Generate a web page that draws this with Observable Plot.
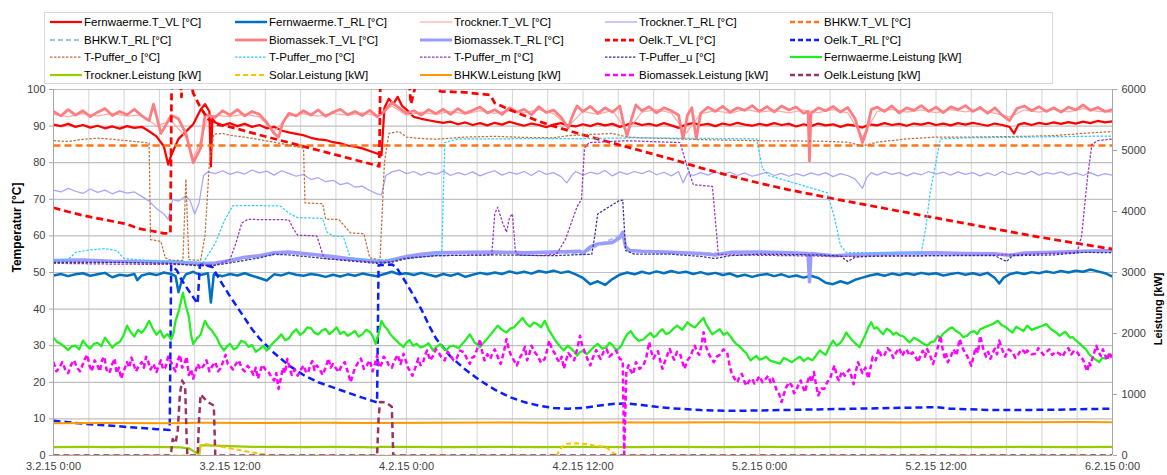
<!DOCTYPE html>
<html><head><meta charset="utf-8">
<script src="https://cdn.jsdelivr.net/npm/d3@7"></script>
<script src="https://cdn.jsdelivr.net/npm/@observablehq/plot@0.6"></script>
<style>
body{margin:0;background:#fff;font-family:"Liberation Sans",Arial,sans-serif;}
#wrap{position:relative;width:1167px;height:475px;overflow:hidden;background:#fff;}
#legend{position:absolute;left:44px;top:12px;width:1009px;height:72px;border:1px solid #d9d9d9;box-sizing:border-box;}
.item{position:absolute;height:16px;display:flex;align-items:center;font-size:11.5px;color:#000;white-space:nowrap;}
.item svg{margin-right:2px;}
#chart{position:absolute;left:0;top:81px;}
</style></head><body>
<div id="wrap"><div id="legend"></div><div id="chart"></div></div>
<script>
// ---------- axis ticks / labels ----------
const xTickHours = [0, 12, 24, 36, 48, 60, 72];
const xTickLabels = ["3.2.15 0:00", "3.2.15 12:00", "4.2.15 0:00", "4.2.15 12:00", "5.2.15 0:00", "5.2.15 12:00", "6.2.15 0:00"];
const yTicksLeft = [0, 10, 20, 30, 40, 50, 60, 70, 80, 90, 100];
const yTicksRight = [0, 1000, 2000, 3000, 4000, 5000, 6000];
const leftTitle = "Temperatur [°C]";
const rightTitle = "Leistung [kW]";

// ---------- series data: [hour since 3.2.15 0:00, value] ----------
const fwTVL = [[0,90.4],[0.5,90.0],[1,90.6],[1.5,89.8],[2,90.3],[2.5,89.6],[3,90.1],[3.5,89.4],[4,89.9],[4.5,89.3],[5,90.0],[5.5,89.5],[6,89.8],[6.5,88.6],[7,87.2],[7.5,84.5],[7.8,79.5],[8,82],[8.5,86.5],[9,88.5],[9.5,90.5],[10,94.5],[10.3,96],[10.6,94],[10.7,79],[10.8,92],[11,91],[11.5,90.2],[12,90.8],[12.5,90],[13,90.6],[13.5,89.8],[14,90.3],[14.5,89.4],[15,89.8],[15.5,88.8],[16,88.3],[16.5,87.9],[17,87.5],[17.5,86.8],[18,86.4],[18.5,86.2],[19,85.6],[19.5,85.3],[20,84.7],[20.5,84.4],[21,83.9],[21.5,83.2],[22,82.5],[22.3,82],[22.5,95],[22.8,97.5],[23.1,96],[23.4,98],[23.7,95.5],[24,94.5],[24.5,92.5],[25,92],[25.5,91.6],[26,91.2],[26.5,90.9],[27,91.2],[27.5,90.5],[28,91],[28.5,90.3],[29,90.8],[29.5,90.2],[30,90.9],[30.5,90.4],[31,91.2],[31.5,90.6],[32,90.1],[32.5,90.7],[33,90.3],[33.5,89.7],[34,90.4],[34.5,90.8],[35,90.2],[35.5,89.9],[36,90.5],[36.5,90.0],[37,90.7],[37.5,90.2],[38,90.6],[38.5,89.8],[39,90.4],[39.5,90.9],[40,90.3],[40.5,90.6],[41,90.1],[41.5,90.8],[42,90.2],[42.5,89.5],[43,90.4],[43.5,90.8],[44,90.3],[44.5,90.6],[45,90.0],[45.5,90.7],[46,90.3],[46.5,90.9],[47,90.4],[47.5,90.1],[48,90.6],[48.5,90.2],[49,90.8],[49.5,90.3],[50,90.6],[50.5,89.9],[51,90.5],[51.5,90.0],[52,90.7],[52.5,90.2],[53,90.5],[53.5,89.8],[54,90.4],[54.5,90.1],[55,89.6],[55.5,90.5],[56,90.2],[56.5,90.8],[57,90.3],[57.5,90.6],[58,90.1],[58.5,90.7],[59,90.4],[59.5,90.9],[60,90.3],[60.5,90.7],[61,90.2],[61.5,90.8],[62,90.4],[62.5,90.9],[63,90.5],[63.5,90.1],[64,90.7],[64.5,90.3],[65,89.8],[65.3,88],[65.6,90.4],[66,90.8],[66.5,90.3],[67,90.9],[67.5,90.5],[68,91.0],[68.5,90.6],[69,91.1],[69.5,90.7],[70,91.2],[70.5,90.8],[71,91.4],[71.5,91.0],[72,91.3]];
const fwTRL = [[0,49.2],[0.5,49.6],[1,49],[1.5,49.5],[2,49.8],[2.5,49.1],[3,49.5],[3.5,49.9],[4,48.7],[4.5,49.4],[5,49.1],[5.5,49.6],[5.7,47.9],[6,49.2],[6.5,49.7],[7,49.3],[7.5,50],[8,49.6],[8.3,49],[8.5,44.6],[8.7,47.5],[9,49.5],[9.5,50.2],[10,49.3],[10.5,49.8],[10.7,41.8],[10.9,49.5],[11.5,49],[12,49.6],[12.5,49.2],[13,49.8],[13.5,49.1],[14,48.5],[14.5,47.8],[15,49.5],[15.5,49.2],[16,49.9],[16.5,49.4],[17,49.1],[17.5,49.6],[18,49.3],[18.5,48.8],[19,49.4],[19.5,48.9],[20,49.5],[20.5,49.1],[21,49.7],[21.5,49.3],[22,49],[22.5,49.6],[23,50.2],[23.5,49.5],[24,49.8],[24.5,49.3],[25,49.9],[25.5,49.4],[26,48.9],[26.5,49.6],[27,49.1],[27.5,49.7],[28,48.8],[28.5,49.4],[29,49.9],[29.5,49.5],[30,50],[30.5,49.6],[31,50.3],[31.5,49.8],[32,50.2],[32.5,49.7],[33,50.4],[33.5,50],[34,50.5],[34.5,49.9],[35,50.3],[35.5,49.5],[36,48.5],[36.5,46.8],[37,47.6],[37.5,46.6],[38,48.2],[38.5,49.4],[39,50],[39.5,49.5],[40,50.2],[40.5,49.7],[41,50.3],[41.5,49.8],[42,50.4],[42.5,49.9],[43,50.2],[43.5,49.6],[44,50.1],[44.5,49.5],[45,49.9],[45.5,49.3],[46,49.7],[46.5,48.9],[47,49.4],[47.5,48.8],[48,49.3],[48.5,49.6],[49,49],[49.5,49.5],[50,48.8],[50.5,49.2],[51,48.6],[51.5,49.1],[52,48.5],[52.5,47.2],[53,46.8],[53.5,47.6],[54,47],[54.5,48],[55,48.6],[55.5,49.2],[56,49.6],[56.5,49.1],[57,49.7],[57.5,49.3],[58,49.8],[58.5,49.4],[59,49.9],[59.5,49.5],[60,49.8],[60.5,49.2],[61,49.6],[61.5,49.9],[62,49.4],[62.5,49.8],[63,49.3],[63.5,49.9],[64,48.5],[64.3,47],[64.6,48.6],[65,49.5],[65.5,50],[66,49.6],[66.5,50.1],[67,49.8],[67.5,50.3],[68,49.9],[68.5,50.4],[69,50],[69.5,50.5],[70,50.2],[70.5,50.8],[71,50.3],[71.5,49.8],[72,48.9]];
const trTVL = [[0,93.2],[1,92.6],[2,93.4],[3,92.8],[4,93.5],[5,92.7],[6,93.1],[7,90],[8,91.5],[9,87],[9.5,81],[10,86],[10.5,92.5],[11,93],[12,92.6],[13,93.3],[14,92.5],[15,88.5],[16,92.8],[17,93.4],[18,92.7],[19,93.5],[20,92.9],[21,93.6],[22,92.8],[23,95.5],[24,93],[25,93.8],[26,93.2],[27,94],[28,93.3],[29,94.2],[30,93.5],[31,94.3],[32,93.6],[33,94.5],[34,93.4],[35,90],[36,94],[37,93.2],[38,94.3],[39,88.5],[40,93.8],[41,94.5],[42,93.6],[43,88],[44,93.4],[45,94.2],[46,93.5],[47,94.6],[48,93.8],[49,94.3],[50,93.6],[51,94.4],[52,93.7],[53,94.5],[54,93.6],[55,87],[56,94],[57,94.6],[58,93.8],[59,94.4],[60,93.7],[61,94.5],[62,93.9],[63,94.6],[64,93.5],[65,92.5],[66,94.4],[67,93.8],[68,94.6],[69,93.9],[70,94.8],[71,94],[72,93.8]];
const trTRL = [[0,72.5],[0.5,72],[1,73],[1.5,72.2],[2,71.6],[2.5,72.8],[3,71.9],[3.5,72.5],[4,71.5],[4.5,72.3],[5,71.7],[5.5,72],[6,70.8],[6.5,69.5],[7,67.5],[7.5,66],[7.8,64.5],[8.1,70],[8.5,69.5],[9,71],[9.3,69.5],[9.6,66],[9.9,69],[10.2,76.5],[10.5,77.5],[11,77],[11.5,77.8],[12,76.8],[12.5,77.5],[13,76.9],[13.5,78],[14,77.2],[14.5,77.7],[15,76.6],[15.5,77.8],[16,77.1],[16.5,76.3],[17,76.8],[17.5,75.4],[18,75.9],[18.5,74.8],[19,75.2],[19.5,74],[20,74.5],[20.5,73.3],[21,73.6],[21.5,72.4],[22,71.5],[22.3,71.2],[22.6,76.5],[23,77.5],[23.5,78],[24,77],[24.5,77.6],[25,76.6],[25.5,77.4],[26,76.8],[26.5,77.7],[27,76.5],[27.5,77.3],[28,76.7],[28.5,77.5],[29,76.4],[29.5,77.2],[30,77.8],[30.5,76.6],[31,77.4],[31.5,76.9],[32,77.6],[32.5,76.5],[33,77.8],[33.5,76.8],[34,77.3],[34.5,76.2],[34.9,74.5],[35.3,76.8],[35.5,77.6],[36,76.6],[36.5,77.4],[37,76.9],[37.5,77.9],[38,76.4],[38.5,77.5],[39,76.8],[39.5,77.6],[40,77],[40.5,77.8],[41,76.7],[41.5,77.4],[42,76.4],[42.5,77.6],[42.8,74.5],[43.1,77],[43.5,76.5],[44,77.3],[44.5,76.6],[45,77.5],[45.5,76.8],[46,77.4],[46.5,76.5],[47,77.2],[47.5,76.3],[48,76.8],[48.5,77.4],[49,76.5],[49.5,77.1],[50,76.3],[50.5,77],[51,76.4],[51.5,77.2],[52,76.6],[52.5,77.3],[53,76.2],[53.5,77],[54,76.5],[54.5,75.5],[55,73],[55.3,76],[55.6,77.3],[56,76.6],[56.5,77.5],[57,76.8],[57.5,77.3],[58,76.4],[58.5,77.2],[59,76.7],[59.5,77.6],[60,76.9],[60.5,77.4],[61,76.6],[61.5,77.5],[62,76.8],[62.5,77.3],[63,76.4],[63.5,77.2],[64,76.5],[64.5,77.6],[65,76.7],[65.5,77.4],[66,76.8],[66.5,77.7],[67,76.6],[67.5,77.3],[68,76.9],[68.5,77.5],[69,76.6],[69.5,77.2],[70,76.5],[70.5,77.3],[71,76.4],[71.5,77],[72,76.6]];
const bhkwTVL = [[0,84.7],[12,84.7],[24,84.7],[36,84.7],[48,84.7],[60,84.7],[72,84.7]];
const bhkwTRL = [[0,53],[4,52.9],[8,52.6],[10,52.2],[12,53],[14,54.3],[16,55.3],[18,54.5],[20,53.6],[22,52.8],[24,54.2],[26,55.2],[30,55.3],[34,55.4],[36,55.1],[37,57.4],[38.7,60.5],[39,56],[42,55.3],[46,55.2],[50,55.2],[52,54.8],[54,54.6],[58,55.1],[62,55],[66,55.1],[70,55.6],[72,55.8]];
const bioTVL = [[0,94],[0.5,92.8],[1,94.5],[1.5,93],[2,94.2],[2.5,92.6],[3,93.8],[3.5,94.8],[4,92.9],[4.5,94],[5,93.1],[5.5,94.6],[6,92.8],[6.5,91.5],[6.8,96],[7.3,88],[7.6,90],[8,93],[8.5,92],[9,88],[9.5,80],[10,84],[10.3,93],[10.5,93],[11,92.4],[11.5,94.2],[12,93],[12.5,94.5],[13,92.8],[13.5,94],[14,93.2],[14.5,91],[15,88],[15.3,87],[15.6,91],[16,93.5],[16.5,92.8],[17,94.2],[17.5,93],[18,94.4],[18.5,92.7],[19,93.8],[19.5,94.6],[20,93.1],[20.5,94],[21,92.9],[21.5,94.3],[22,92.6],[22.5,94],[23,96.5],[23.5,95],[24,93.5],[24.5,94.2],[25,93],[25.5,94.5],[26,93.4],[26.5,94.6],[27,93.2],[27.5,94.8],[28,93.5],[28.5,94.3],[29,95.2],[29.5,93.6],[30,94.5],[30.5,93.2],[31,95],[31.5,93.8],[32,94.6],[32.5,93.1],[33,95.3],[33.5,93.7],[34,94.4],[34.5,92.5],[35,89.5],[35.3,93],[35.6,95.5],[36,94],[36.5,95.4],[37,93.5],[37.5,95],[38,93.8],[38.5,95.5],[38.8,90],[39,87.3],[39.3,92],[39.6,95.8],[40,94.2],[40.5,95.3],[41,93.6],[41.5,95],[42,94.2],[42.5,93],[42.8,86.5],[43.1,93],[43.4,95],[43.7,86.5],[44,93.5],[44.5,95.2],[45,94],[45.5,95.4],[46,93.8],[46.5,95],[47,94.3],[47.5,95.6],[48,94],[48.5,95.3],[49,93.9],[49.5,95.5],[50,94.4],[50.5,95.2],[51,93.5],[51.3,94],[51.4,80.5],[51.5,93.5],[52,95],[52.5,94.2],[53,95.4],[53.5,93.8],[54,95.1],[54.5,92],[55,85.5],[55.3,89],[55.6,94.5],[56,95.2],[56.5,94],[57,95.5],[57.5,93.6],[58,95],[58.5,94.3],[59,95.6],[59.5,94],[60,95.2],[60.5,93.7],[61,95.3],[61.5,94.5],[62,95.6],[62.5,94],[63,95.1],[63.5,93.5],[64,95],[64.5,93],[65,91.5],[65.5,94.8],[66,95.5],[66.5,94.2],[67,95.3],[67.5,94],[68,95],[68.5,93.8],[69,95.2],[69.5,94.4],[70,95.8],[70.5,94.3],[71,95.1],[71.5,94],[72,94.5]];
const bioTRL = [[0,53.3],[2,53.4],[4,53.1],[6,53.0],[8,52.8],[10,52.4],[11,52.6],[12,53.3],[13,54.2],[14,54.6],[15,55.4],[16,55.6],[17,55.2],[18,54.8],[19,54.4],[20,53.8],[21,53.4],[22,53],[22.5,52.9],[23,53.4],[24,54.4],[25,55],[26,55.4],[28,55.5],[30,55.6],[32,55.4],[34,55.6],[35.8,55.8],[36,55.3],[36.5,57],[37,57.8],[38,58.2],[38.5,59.5],[38.7,61],[38.9,57],[39.2,56],[40,55.8],[42,55.5],[44,55.2],[45,54.8],[46,55.5],[48,55.6],[50,55.4],[51.3,55.2],[51.4,47.5],[51.5,55.2],[52,55],[53,54.6],[54,54.8],[56,55.1],[58,55.3],[60,55.4],[62,55.2],[64,55.1],[65,54.7],[66,55.3],[68,55.5],[70,55.8],[72,56]];
const oelkTVL = [[0,67.7],[1,66.6],[2,65.6],[3,64.8],[4,64],[5,63.2],[5.8,62],[6.5,61.5],[7.5,60.7],[7.95,60.7],[8.05,112],[8.5,112],[8.7,98],[8.9,112],[9.2,104],[9.5,99],[10,95],[10.5,92],[11,90.5],[12,89.8],[14,87.6],[16,85.5],[18,83.4],[20,81.3],[22,79.2],[22.15,79],[22.25,112],[24,112],[24.3,96],[24.8,104],[26.3,99.5],[28,99.2],[29.7,98.5],[30,96.3],[31,94.5],[32,92.9],[33,91.3],[34,90],[35,88.8],[36,87.6],[37,86.5],[38,85.4],[39,84.3],[40,83.2],[41,82.1],[42,81],[43,79.8],[44,78.6],[45,77.5],[46,76.4],[47,75.4],[48,74.4],[50,72.6],[52,71],[54,69.4],[56,67.9],[58,66.4],[60,64.9],[62,63.4],[64,61.9],[66,60.4],[68,59],[70,57.7],[72,56.4]];
const oelkTRL = [[0,9.5],[1,9.1],[2,8.7],[3,8.4],[4,8.1],[5,7.8],[6,7.5],[7,7.2],[7.9,7.0],[8.0,52],[8.4,50.5],[8.7,48],[9.2,45],[9.8,41.5],[9.95,52],[10.2,52.2],[10.8,51.5],[11.3,48],[12,43.5],[12.5,40.5],[13,37.5],[13.5,34.5],[14,32],[15,28],[16,24.6],[17,22],[18,20],[19,18.6],[20,17.2],[21,15.8],[22,14.5],[22.1,52],[23,52.2],[23.3,51.5],[24,47],[24.5,43.5],[25,40],[25.6,35],[26,32],[27,27],[28,23.5],[29,20.5],[30,18],[31,16],[32,14.6],[33,13.6],[34,13],[35,12.8],[36,13],[37,13.6],[38,14.1],[39,14.2],[40,13.8],[41,13.3],[42,12.9],[44,12.4],[46,12.2],[48,12.3],[52,12.6],[56,12.9],[60,13.2],[61,12.8],[64,12.4],[68,12.5],[72,12.8]];
const pufO = [[0,86],[1,85.8],[2,86.4],[3,86.7],[4,86.4],[5,86],[6,85.6],[6.5,85.4],[6.6,59],[7.3,58.5],[7.6,54],[8,53.3],[8.8,53.3],[9,75.5],[9.2,53.5],[10,53.3],[10.3,60],[10.6,80],[10.9,87.8],[11.5,88],[12,87.5],[13,87],[14,86.3],[15,85.6],[16,84.8],[17,84],[17.1,69],[18.3,68.8],[18.5,64.6],[19.4,64.5],[20.2,60.8],[21.1,60.6],[21.5,54],[22.2,53.5],[22.5,80],[22.8,88],[23.5,88.5],[24,87],[25,86.6],[26,86.4],[28,87],[30,87.2],[32,86.9],[34,86.8],[35,87.4],[36,87.6],[38,88],[39,87],[40,86.8],[42,86.6],[44,86.3],[48,86],[52,85.9],[54,85.6],[55,84.6],[56,85.6],[58,86.5],[60,87],[62,87],[66,87.2],[68,87.4],[70,88],[72,88.5]];
const pufMO = [[0,53.3],[1,53.5],[1.5,55.5],[2.5,56.2],[3.5,56.5],[4.3,56],[4.8,53.8],[6,53.4],[8,53.2],[10.2,52.8],[11,58],[11.6,64],[12.2,68.3],[15.4,68.2],[16.1,66],[16.6,65],[18.3,64.8],[18.6,61],[19,60],[19.7,59.8],[20.2,53.8],[22,53.4],[24,53.8],[26.4,55],[26.6,85.5],[27.5,86.5],[36,86.6],[40,86.8],[47.8,86.5],[48.2,78.5],[48.6,76.5],[49.4,75.6],[52.6,71.8],[53.1,65],[53.5,57.5],[53.9,55.4],[59,55.4],[59.3,62],[59.6,71.8],[60.3,86.5],[62,86.8],[72,87.3]];
const pufM = [[0,52.5],[4,52.3],[8,52.2],[11,52],[12,53.5],[12.4,58],[12.8,63.5],[13.2,64.5],[16,64.4],[16.3,62],[16.6,60.2],[17.9,60],[18.4,53.8],[20,53.4],[22,52.8],[23,53],[24,54],[26,54.6],[29.8,54.8],[30,66],[30.2,67.8],[30.5,64],[30.8,61],[31,65],[31.2,66],[31.4,56],[31.6,54.8],[33,54.6],[34.2,55],[34.8,59],[35.6,68],[35.9,70],[36.1,84],[36.4,85.5],[39,86],[42.6,85.5],[43,80],[43.5,74],[44.8,73.5],[45.2,55],[46,54.8],[50,54.6],[54,54.4],[60,54.6],[65,54.8],[69.6,55.5],[69.9,60],[70.3,76],[70.6,85],[71,86],[72,86.5]];
const pufU = [[0,52.8],[4,52.8],[8,52.5],[10,51.8],[11,52],[12,52.6],[14,54],[15,55],[16,54.8],[18,54],[20,53.2],[22,52.5],[23,52.8],[24,53.8],[26,54.6],[30,54.8],[34,54.6],[36.6,55],[36.8,60],[37,66],[38.4,69.5],[38.7,69.8],[38.9,56],[39.5,55],[42,55],[44,54.4],[45,53.8],[46,54.6],[48,55],[52,54.8],[53.5,54.5],[54,53],[54.5,54.2],[56,54.5],[60,54.6],[64,54.6],[64.8,53],[65.2,54.6],[68,54.8],[70,55.5],[72,55.4]];
const fwP = [[0,1932],[0.25,1860],[0.5,1830],[0.75,1780],[1,1728],[1.25,1790],[1.5,1800],[1.75,1740],[2,1884],[2.25,1800],[2.5,1752],[2.75,1830],[3,1848],[3.25,1790],[3.5,1932],[3.75,1850],[4,1770],[4.25,1830],[4.5,1860],[4.75,1960],[5,2130],[5.25,2020],[5.5,1950],[5.75,2060],[6,2010],[6.25,2090],[6.5,2208],[6.75,2080],[7,1980],[7.25,2050],[7.5,1932],[7.75,1990],[8,1902],[8.15,2000],[8.3,2208],[8.55,2400],[8.8,2670],[9,2450],[9.2,2280],[9.35,1980],[9.5,1830],[9.75,1920],[10,1980],[10.15,2100],[10.3,2208],[10.55,2100],[10.8,2040],[10.95,1980],[11.1,1932],[11.35,1800],[11.6,1722],[11.8,1790],[12,1830],[12.25,1740],[12.5,1776],[12.75,1880],[13,1860],[13.25,1780],[13.5,1812],[13.75,1700],[14,1740],[14.25,1800],[14.5,1722],[14.75,1800],[15,1860],[15.25,1920],[15.5,1986],[15.75,1890],[16,1920],[16.25,2010],[16.5,2070],[16.75,1980],[17,2016],[17.25,2100],[17.5,2088],[17.75,2010],[18,1986],[18.25,2050],[18.5,2076],[18.75,1990],[19,2040],[19.25,2100],[19.5,1992],[19.75,2030],[20,1962],[20.25,2000],[20.5,2040],[20.75,1950],[21,1986],[21.25,2060],[21.5,2028],[21.7,1960],[21.9,1830],[22.1,1990],[22.3,2208],[22.5,2120],[22.7,2070],[22.9,1990],[23.1,1932],[23.45,1850],[23.8,1776],[24,1850],[24.2,1890],[24.45,1800],[24.7,1830],[24.95,1770],[25.2,1788],[25.5,1840],[25.8,1722],[26.05,1780],[26.3,1824],[26.5,1760],[26.7,1722],[26.95,1790],[27.2,1800],[27.55,1760],[27.9,1860],[28.1,1920],[28.3,1986],[28.45,1930],[28.6,1860],[28.8,1820],[29,1776],[29.25,1850],[29.5,1920],[29.85,2020],[30.2,2130],[30.5,2060],[30.8,2016],[31.05,2080],[31.3,2100],[31.6,2180],[31.9,2256],[32.15,2160],[32.4,2112],[32.65,2180],[32.9,2154],[33.15,2100],[33.4,2208],[33.7,2050],[34,1932],[34.2,1860],[34.4,1800],[34.55,1760],[34.7,1722],[34.95,1800],[35.2,1752],[35.4,1700],[35.6,1638],[35.8,1700],[36,1710],[36.25,1660],[36.5,1722],[36.75,1780],[37,1830],[37.3,1750],[37.6,1776],[37.8,1850],[38,1812],[38.15,1760],[38.3,1722],[38.45,1760],[38.6,1800],[38.8,1900],[39,1986],[39.25,2040],[39.5,1944],[39.8,1880],[40.1,1902],[40.35,1960],[40.6,2010],[40.8,1940],[41,1968],[41.2,2030],[41.4,2070],[41.65,1990],[41.9,2016],[42.15,2080],[42.4,2130],[42.75,2060],[43.1,2184],[43.35,2130],[43.6,2100],[43.9,2180],[44.2,2256],[44.35,2160],[44.5,2100],[44.65,2040],[44.8,1986],[45.05,2030],[45.3,2070],[45.55,1980],[45.8,2016],[46,1960],[46.2,1890],[46.45,1820],[46.7,1776],[46.9,1720],[47.1,1680],[47.25,1610],[47.4,1560],[47.6,1600],[47.8,1632],[48,1570],[48.2,1584],[48.45,1620],[48.7,1560],[49.05,1530],[49.4,1506],[49.65,1600],[49.9,1572],[50.2,1530],[50.5,1584],[50.75,1620],[51,1548],[51.3,1600],[51.6,1560],[51.85,1640],[52.1,1722],[52.3,1680],[52.5,1650],[52.75,1780],[53,1884],[53.25,1800],[53.5,1848],[53.7,1920],[53.9,2016],[54.1,1950],[54.3,1890],[54.55,1830],[54.8,1776],[55,1880],[55.2,1980],[55.4,2100],[55.6,2184],[55.8,2080],[56,2100],[56.2,2040],[56.4,1986],[56.65,2080],[56.9,2040],[57.1,1980],[57.3,2016],[57.55,1970],[57.8,1950],[58,1900],[58.2,1854],[58.5,1930],[58.8,1890],[59.1,1840],[59.4,1800],[59.65,1860],[59.9,1872],[60.1,1960],[60.3,1932],[60.5,2000],[60.7,2040],[60.9,2080],[61.1,2100],[61.35,2040],[61.6,2010],[61.85,1940],[62.1,1962],[62.35,2020],[62.6,2040],[62.8,1990],[63,2070],[63.3,2100],[63.6,2130],[63.9,2160],[64.2,2208],[64.45,2140],[64.7,2112],[64.95,2060],[65.2,2016],[65.45,2110],[65.7,2076],[65.95,2040],[66.2,2130],[66.5,2060],[66.8,2088],[67.15,2120],[67.5,2154],[67.75,2090],[68,2040],[68.2,2010],[68.4,1962],[68.6,2000],[68.8,2028],[68.95,1980],[69.1,1932],[69.3,1940],[69.5,1890],[69.65,1860],[69.8,1830],[70,1780],[70.2,1740],[70.35,1680],[70.5,1638],[70.8,1580],[71.1,1530],[71.3,1600],[71.5,1590],[71.75,1660],[72,1638]];
const trP = [[0,138],[2,142],[4,136],[6,140],[8,137],[8.6,132],[9.2,118],[9.6,60],[9.9,18],[10,168],[10.5,164],[11.5,156],[12.5,148],[13.5,142],[15,140],[17,138],[19,141],[21,137],[22,132],[22.2,142],[24,140],[27,138],[30,141],[33,137],[36,140],[39,138],[42,141],[45,137],[48,140],[51,138],[54,141],[57,139],[60,140],[63,138],[66,141],[69,139],[72,140]];
const solarP = [[0,0],[9.9,0],[10.0,150],[10.3,190],[10.8,170],[11.5,140],[12.2,110],[12.8,80],[13.5,50],[14.2,25],[14.7,0],[34.2,0],[34.5,120],[34.8,190],[35.5,200],[36.2,190],[36.8,160],[37.2,150],[37.6,130],[38,50],[38.4,0],[72,0]];
const bhkwP = [[0,530],[4,534],[8,528],[10,536],[14,532],[18,538],[22,534],[26,538],[30,540],[34,536],[38,542],[42,540],[46,544],[50,540],[54,546],[58,542],[62,546],[66,544],[70,548],[72,546]];
const bioP = [[0,1530],[0.2,1380],[0.4,1440],[0.6,1530],[0.8,1410],[1.0,1350],[1.2,1488],[1.4,1560],[1.6,1440],[1.8,1380],[2,1500],[2.15,1590],[2.3,1650],[2.45,1470],[2.6,1380],[2.8,1560],[3,1470],[3.15,1380],[3.3,1560],[3.45,1620],[3.6,1410],[3.8,1350],[4,1500],[4.15,1590],[4.3,1350],[4.45,1440],[4.6,1260],[4.8,1400],[5,1530],[5.15,1440],[5.3,1608],[5.45,1500],[5.6,1380],[5.8,1470],[6,1530],[6.15,1440],[6.3,1620],[6.45,1530],[6.6,1410],[6.8,1500],[7,1368],[7.15,1470],[7.3,1560],[7.45,1410],[7.6,1440],[7.8,1620],[8,1530],[8.15,1440],[8.3,1380],[8.45,1560],[8.6,1650],[8.75,1440],[8.9,1500],[9.05,1620],[9.2,1320],[9.35,1410],[9.5,1260],[9.65,1380],[9.8,1500],[10,1410],[10.2,1470],[10.4,1560],[10.6,1380],[10.8,1470],[11,1530],[11.2,1380],[11.4,1440],[11.55,1560],[11.7,1650],[11.85,1500],[12,1476],[12.2,1410],[12.4,1500],[12.6,1560],[12.8,1428],[13,1380],[13.2,1470],[13.4,1410],[13.6,1320],[13.75,1440],[13.9,1260],[14.05,1380],[14.2,1488],[14.4,1410],[14.6,1380],[14.8,1290],[15,1230],[15.15,1350],[15.3,1092],[15.45,1260],[15.6,1440],[15.75,1350],[15.9,1584],[16.05,1440],[16.2,1320],[16.4,1410],[16.6,1308],[16.8,1400],[17,1476],[17.15,1380],[17.3,1350],[17.45,1480],[17.6,1548],[17.75,1400],[17.9,1476],[18.1,1410],[18.3,1320],[18.5,1440],[18.7,1590],[18.85,1440],[19,1500],[19.2,1430],[19.4,1368],[19.6,1480],[19.8,1530],[20,1380],[20.2,1200],[20.35,1320],[20.5,1440],[20.7,1520],[20.9,1590],[21.1,1420],[21.3,1476],[21.5,1560],[21.7,1380],[21.85,1500],[22,1638],[22.15,1440],[22.3,1500],[22.45,1620],[22.6,1584],[22.8,1480],[23,1440],[23.2,1560],[23.4,1650],[23.6,1500],[23.8,1668],[23.95,1560],[24.1,1440],[24.25,1380],[24.4,1308],[24.6,1440],[24.8,1590],[24.95,1480],[25.1,1500],[25.25,1640],[25.4,1722],[25.6,1560],[25.8,1632],[26,1740],[26.2,1680],[26.4,1600],[26.6,1560],[26.8,1700],[27,1638],[27.2,1560],[27.4,1590],[27.65,1720],[27.9,1692],[28.1,1590],[28.3,1500],[28.45,1600],[28.6,1620],[28.8,1740],[29,1908],[29.15,1700],[29.3,1560],[29.5,1660],[29.7,1584],[29.85,1680],[30,1740],[30.2,1620],[30.4,1500],[30.6,1680],[30.8,1908],[30.95,1740],[31.1,1650],[31.3,1560],[31.5,1476],[31.7,1600],[31.9,1680],[32.05,1780],[32.2,1560],[32.35,1660],[32.5,1800],[32.7,1700],[32.9,1638],[33.15,1520],[33.4,1584],[33.55,1720],[33.7,1884],[33.9,1740],[34.1,1668],[34.25,1580],[34.4,1530],[34.55,1620],[34.7,1422],[34.85,1560],[35,1680],[35.2,1620],[35.4,1560],[35.6,1740],[35.8,1962],[35.95,1800],[36.1,1710],[36.3,1580],[36.5,1476],[36.7,1620],[36.9,1728],[37.05,1640],[37.2,1584],[37.4,1700],[37.6,1746],[37.8,1620],[38,1668],[38.25,1720],[38.5,1584],[38.7,1560],[38.8,30],[38.95,1368],[39.1,1480],[39.2,1410],[39.4,1330],[39.6,1530],[39.85,1420],[40.1,1476],[40.3,1600],[40.5,1860],[40.65,1700],[40.8,1590],[40.95,1660],[41.1,1710],[41.25,1560],[41.4,1422],[41.65,1600],[41.9,1746],[42.05,1640],[42.2,1572],[42.4,1700],[42.6,1668],[42.75,1540],[42.9,1422],[43.1,1560],[43.3,1620],[43.45,1720],[43.6,1800],[43.75,1700],[43.9,1650],[44.05,1800],[44.2,2022],[44.35,1800],[44.5,1692],[44.7,1600],[44.9,1530],[45.1,1620],[45.3,1650],[45.55,1740],[45.8,1692],[45.95,1500],[46.1,1350],[46.3,1260],[46.5,1200],[46.65,1300],[46.8,1338],[46.95,1230],[47.1,1146],[47.3,1220],[47.5,1260],[47.65,1180],[47.8,1218],[48,1300],[48.2,1200],[48.4,1250],[48.6,1308],[48.75,1200],[48.9,1260],[49.05,1150],[49.2,1050],[49.35,1000],[49.5,876],[49.65,1000],[49.8,1110],[50,1200],[50.2,1146],[50.35,1020],[50.5,1068],[50.65,1160],[50.8,1230],[50.95,1120],[51.1,1038],[51.25,1200],[51.4,1308],[51.55,1200],[51.7,1368],[51.85,1150],[52,984],[52.2,1100],[52.4,1092],[52.6,1200],[52.8,1260],[52.95,1380],[53.1,1476],[53.25,1300],[53.4,1230],[53.6,1380],[53.8,1308],[53.95,1360],[54.1,1410],[54.25,1300],[54.4,1170],[54.55,1380],[54.7,1530],[54.85,1440],[55,1350],[55.2,1440],[55.4,1260],[55.55,1440],[55.7,1620],[55.9,1560],[56.1,1746],[56.3,1620],[56.5,1650],[56.7,1760],[56.9,1716],[57.1,1600],[57.3,1692],[57.5,1760],[57.7,1632],[57.85,1700],[58,1740],[58.2,1640],[58.4,1692],[58.6,1620],[58.8,1530],[58.95,1650],[59.1,1716],[59.25,1620],[59.4,1746],[59.6,1640],[59.8,1500],[60.05,1700],[60.3,1962],[60.45,1750],[60.6,1590],[60.7,1660],[60.8,1530],[61,1620],[61.2,1740],[61.4,1640],[61.6,1908],[61.85,1740],[62.1,1638],[62.25,1560],[62.4,1470],[62.55,1620],[62.7,1770],[62.85,1680],[63,1962],[63.2,1760],[63.4,1620],[63.55,1700],[63.7,1584],[63.85,1680],[64,1752],[64.15,1660],[64.3,1884],[64.5,1740],[64.7,1620],[64.95,1740],[65.2,1692],[65.4,1600],[65.6,1656],[65.8,1740],[66,1704],[66.1,1650],[66.2,1722],[66.5,1660],[66.8,1668],[66.95,1760],[67.1,1716],[67.3,1650],[67.5,1692],[67.7,1740],[67.9,1650],[68.15,1700],[68.4,1668],[68.6,1620],[68.8,1710],[69,1760],[69.2,1656],[69.4,1720],[69.6,1692],[69.8,1620],[70,1572],[70.15,1460],[70.3,1380],[70.4,1530],[70.5,1476],[70.7,1640],[70.9,1800],[71.05,1700],[71.2,1632],[71.35,1740],[71.5,1644],[71.65,1560],[71.8,1692],[71.9,1620],[72,1650]];
const oelkP = [[0,0],[7.9,0],[8.0,60],[8.1,270],[8.3,200],[8.45,420],[8.6,1020],[8.75,1230],[8.95,1140],[9.05,300],[9.1,0],[9.8,0],[9.9,600],[10.0,1000],[10.2,950],[10.5,876],[10.9,820],[11.0,0],[22.0,0],[22.1,600],[22.2,876],[22.6,870],[23.0,800],[23.1,0],[72,0]];

// ---------- series list (legend order) ----------
const seriesNames = ["Fernwaerme.T_VL [°C]","Fernwaerme.T_RL [°C]","Trockner.T_VL [°C]","Trockner.T_RL [°C]","BHKW.T_VL [°C]",
  "BHKW.T_RL [°C]","Biomassek.T_VL [°C]","Biomassek.T_RL [°C]","Oelk.T_VL [°C]","Oelk.T_RL [°C]",
  "T-Puffer_o [°C]","T-Puffer_mo [°C]","T-Puffer_m [°C]","T-Puffer_u [°C]","Fernwaerme.Leistung [kW]",
  "Trockner.Leistung [kW]","Solar.Leistung [kW]","BHKW.Leistung [kW]","Biomassek.Leistung [kW]","Oelk.Leistung [kW]"];
const seriesData = [fwTVL, fwTRL, trTVL, trTRL, bhkwTVL, bhkwTRL, bioTVL, bioTRL, oelkTVL, oelkTRL,
  pufO, pufMO, pufM, pufU, fwP, trP, solarP, bhkwP, bioP, oelkP];
const seriesAxis = ["T","T","T","T","T","T","T","T","T","T","T","T","T","T","P","P","P","P","P","P"];

// ---------- styles ----------
const seriesStyle = [
  {stroke:"#ff0000", w:2.25, dash:null},
  {stroke:"#0070c0", w:2.5, dash:null},
  {stroke:"#ffaaaa", w:1.25, dash:null},
  {stroke:"#a5a5ff", w:1.25, dash:null},
  {stroke:"#ff7418", w:2.5, dash:"7,4"},
  {stroke:"#9dc3e6", w:2, dash:"5,3"},
  {stroke:"#ff7c80", w:2.75, dash:null},
  {stroke:"#9b9bff", w:3.5, dash:null},
  {stroke:"#ff0000", w:2.75, dash:"7,4"},
  {stroke:"#0a1eff", w:2.5, dash:"7,4"},
  {stroke:"#c0703c", w:1.25, dash:"2.5,1.5"},
  {stroke:"#33ccff", w:1.25, dash:"2.5,1.5"},
  {stroke:"#9933bb", w:1.25, dash:"2.5,1.5"},
  {stroke:"#30309a", w:1.25, dash:"2.5,1.5"},
  {stroke:"#22ee22", w:2.25, dash:null},
  {stroke:"#99cc00", w:2.25, dash:null},
  {stroke:"#ffc000", w:2, dash:"5,3"},
  {stroke:"#ff9900", w:2, dash:null},
  {stroke:"#ff00ff", w:2.5, dash:"5,3"},
  {stroke:"#993366", w:2.5, dash:"6,4"}
];

// ---------- legend ----------
const legend = document.getElementById("legend");
seriesNames.forEach((name, i) => {
  const col = i % 5, row = Math.floor(i / 5);
  const st = seriesStyle[i];
  const div = document.createElement("div");
  div.className = "item";
  div.style.left = (5 + col * 185) + "px";
  div.style.top = (1 + row * 17.6) + "px";
  const lw = st.dash && st.w < 1.5 ? 1.25 : Math.min(st.w, 3);
  const dash = st.dash ? (st.w < 1.5 ? "2.5,1.5" : "5,3") : "";
  div.innerHTML = `<svg width="32" height="10"><line x1="0" x2="32" y1="5" y2="5" stroke="${st.stroke}" stroke-width="${lw}" ${dash ? `stroke-dasharray="${dash}"` : ""}/></svg><span>${name}</span>`;
  legend.appendChild(div);
});

// ---------- chart ----------
const gridHours = d3.range(0, 72.001, 2.4);
const lineMarks = seriesData.map((data, i) => {
  const st = seriesStyle[i];
  const rows = data.map(([h, v]) => ({h, v}));
  return Plot.line(rows, {
    x: "h",
    y: seriesAxis[i] === "P" ? (d => d.v / 60) : "v",   // secondary axis: 6000 kW ↔ 100
    stroke: st.stroke, strokeWidth: st.w,
    strokeDasharray: st.dash || undefined,
    strokeLinejoin: "round", strokeLinecap: "butt",
    clip: true
  });
});

const chart = Plot.plot({
  width: 1167, height: 394,
  marginLeft: 53, marginRight: 55, marginTop: 8, marginBottom: 20,
  x: {domain: [0, 72]},
  y: {domain: [0, 100]},
  style: {fontFamily: "'Liberation Sans', Arial, sans-serif", fontSize: "11px", color: "#404040", background: "transparent", overflow: "visible"},
  marks: [
    Plot.gridX({ticks: gridHours, stroke: "#d4d4d4", strokeOpacity: 1, strokeWidth: 1}),
    Plot.gridY({ticks: yTicksLeft, stroke: "#bfbfbf", strokeOpacity: 1, strokeWidth: 1.2}),
    ...lineMarks,
    Plot.ruleX([0], {stroke: "#a6a6a6"}),
    Plot.ruleX([72], {stroke: "#a6a6a6"}),
    Plot.ruleY([0], {stroke: "#a6a6a6"}),
    Plot.axisY({ticks: yTicksLeft, tickSize: 4, tickPadding: 4, stroke: "#a6a6a6", label: null}),
    Plot.axisY({anchor: "right", ticks: yTicksRight.map(k => k / 60), tickFormat: d => String(Math.round(d * 60)), tickSize: 4, tickPadding: 5, stroke: "#a6a6a6", label: null}),
    Plot.axisX({ticks: xTickHours, tickFormat: d => xTickLabels[xTickHours.indexOf(d)], tickSize: 0, tickPadding: 7, label: null}),
    Plot.text([leftTitle], {frameAnchor: "left", dx: -36, rotate: -90, fontWeight: "bold", fontSize: 12, fill: "#000"}),
    Plot.text([rightTitle], {frameAnchor: "right", dx: 46, rotate: -90, fontWeight: "bold", fontSize: 11, fill: "#000"})
  ]
});
document.getElementById("chart").appendChild(chart);
</script></body></html>
